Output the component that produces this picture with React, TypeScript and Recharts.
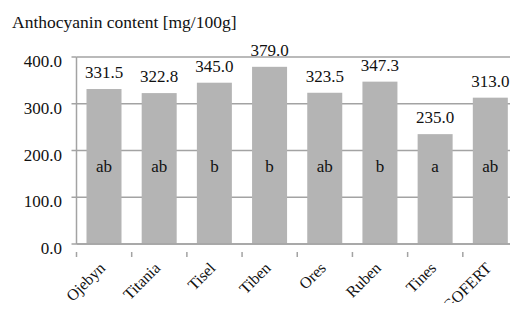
import React from 'react';
import { BarChart, Bar, XAxis, YAxis, CartesianGrid } from 'recharts';

const categories = ['Ojebyn', 'Titania', 'Tisel', 'Tiben', 'Ores', 'Ruben', 'Tines', 'GOFERT'];
const values = [331.5, 322.8, 345.0, 379.0, 323.5, 347.3, 235.0, 313.0];
const groups = ['ab', 'ab', 'b', 'b', 'ab', 'b', 'a', 'ab'];
const yTicks = [0, 100, 200, 300, 400];
const title = 'Anthocyanin content [mg/100g]';

const data = categories.map((name, i) => ({ name, value: values[i], group: groups[i] }));

const FONT = 'Liberation Serif';
const GRID = '#a3a3a3';
const BAR = '#b4b4b4';
const TEXT = '#111';

const YTick = (props: any) => {
  const { x, y, payload } = props;
  return (
    <text x={x} y={y + 10} textAnchor="end" fontFamily={FONT} fontSize={17} fill={TEXT}>
      {Number(payload.value).toFixed(1)}
    </text>
  );
};

const XTick = (props: any) => {
  const { x, y, payload } = props;
  const half = payload && typeof payload.offset === 'number' && payload.offset > 0 ? payload.offset : 27.6;
  const ax = x + 2;
  const ay = y + 17;
  return (
    <g>
      <line x1={x - half} y1={y} x2={x - half} y2={y + 5} stroke={GRID} strokeWidth={1.5} />
      <text
        x={ax}
        y={ay}
        textAnchor="end"
        transform={`rotate(-45 ${ax} ${ay})`}
        fontFamily={FONT}
        fontSize={16}
        fill={TEXT}
      >
        {payload.value}
      </text>
    </g>
  );
};

const BarShape = (props: any) => {
  const { x, y, width, height, payload } = props;
  const v = payload ? payload.value : 0;
  const ppu = v ? height / v : 0;
  const letterY = y + height - 155 * ppu;
  return (
    <g>
      <rect x={x} y={y} width={width} height={height} fill={BAR} />
      <text x={x + width / 2} y={y - 11} textAnchor="middle" fontFamily={FONT} fontSize={17} fill={TEXT}>
        {Number(v).toFixed(1)}
      </text>
      <text x={x + width / 2} y={letterY} textAnchor="middle" fontFamily={FONT} fontSize={17} fill={TEXT}>
        {payload ? payload.group : ''}
      </text>
    </g>
  );
};

export default function App() {
  return (
    <div style={{ position: 'relative', width: 510, height: 303, marginBottom: -8 }}>
      <BarChart width={510} height={303} data={data} margin={{ top: 49, right: 0, bottom: 0, left: 0 }}>
        <CartesianGrid vertical={false} stroke={GRID} strokeWidth={1.5} />
        <XAxis
          dataKey="name"
          height={67}
          interval={0}
          axisLine={{ stroke: GRID, strokeWidth: 1.5 }}
          tickLine={false}
          tick={<XTick />}
        />
        <YAxis
          width={68.5}
          domain={[0, 400]}
          ticks={yTicks}
          interval={0}
          axisLine={{ stroke: GRID, strokeWidth: 1.5 }}
          tickLine={{ stroke: GRID, strokeWidth: 1.5 }}
          tickSize={5}
          tickMargin={9.5}
          tick={<YTick />}
        />
        <Bar dataKey="value" fill={BAR} barSize={35} isAnimationActive={false} shape={<BarShape />} />
      </BarChart>
      <svg width={300} height={30} style={{ position: 'absolute', left: 0, top: 0 }}>
        <text x={4} y={20} fontFamily={FONT} fontSize={17.5} fill={TEXT}>
          {title}
        </text>
      </svg>
    </div>
  );
}
